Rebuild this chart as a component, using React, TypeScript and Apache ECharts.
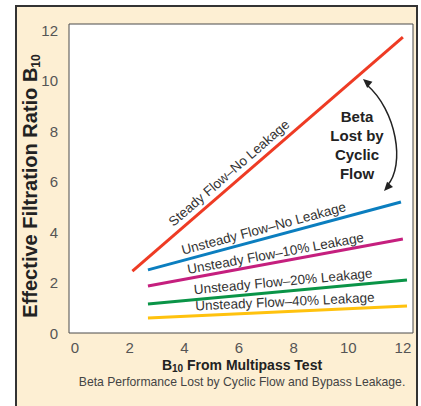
import React, { useEffect, useRef } from 'react';
import * as echarts from 'echarts';

// ---- data ----
const xTicks = [0, 2, 4, 6, 8, 10, 12];
const yTicks = [0, 2, 4, 6, 8, 10, 12];
const seriesNames = [
  'Steady Flow–No Leakage',
  'Unsteady Flow–No Leakage',
  'Unsteady Flow–10% Leakage',
  'Unsteady Flow–20% Leakage',
  'Unsteady Flow–40% Leakage',
];
const steadyNoLeak = [[2.1, 2.45], [12.0, 11.72]];
const unsteadyNoLeak = [[2.67, 2.5], [11.93, 5.19]];
const unsteady10 = [[2.67, 1.86], [12.0, 3.72]];
const unsteady20 = [[2.67, 1.15], [12.15, 2.1]];
const unsteady40 = [[2.67, 0.59], [12.15, 1.07]];
const seriesData = [steadyNoLeak, unsteadyNoLeak, unsteady10, unsteady20, unsteady40];

// ---- styling / layout ----
const colors = ['#EE3B24', '#0B7EBF', '#C51F7E', '#0A9447', '#FFC20E'];
const labelAtX = [5.9, 7.0, 7.4, 7.65, 7.7];
const labelOffsetPx = [11, 10, 9, 10, 10];
const FONT = '"Liberation Sans", Arial, Helvetica, sans-serif';

function arrowHead(tip: number[], dir: number[], len = 9, half = 4) {
  const L = Math.hypot(dir[0], dir[1]);
  const ux = dir[0] / L, uy = dir[1] / L;
  const bx = tip[0] - ux * len, by = tip[1] - uy * len;
  return [
    [tip[0], tip[1]],
    [bx - uy * half, by + ux * half],
    [bx + uy * half, by - ux * half],
  ];
}

export default function App() {
  const ref = useRef<HTMLDivElement>(null);
  useEffect(() => {
    if (!ref.current) return;
    const chart = echarts.init(ref.current, undefined, { renderer: 'svg' });
    const option: any = {
      animation: false,
      backgroundColor: '#ffffff',
      textStyle: { fontFamily: FONT },
      grid: {
        left: 69, top: 24, right: 8, bottom: 73,
        show: true, backgroundColor: '#ffffff', borderColor: '#4a4a4a', borderWidth: 1,
      },
      xAxis: {
        type: 'value', min: -0.22, max: 12.37,
        axisLine: { show: false }, axisTick: { show: false }, splitLine: { show: false },
        axisLabel: { customValues: xTicks, color: '#555', fontSize: 15, margin: 7, fontFamily: FONT },
      },
      yAxis: {
        type: 'value', min: 0, max: 12.24,
        axisLine: { show: false }, axisTick: { show: false }, splitLine: { show: false },
        axisLabel: { customValues: yTicks, color: '#555', fontSize: 15, margin: 11, fontFamily: FONT },
      },
      series: seriesData.map((d, i) => ({
        type: 'line', name: seriesNames[i], data: d, showSymbol: false, silent: true,
        lineStyle: { color: colors[i], width: 3 }, itemStyle: { color: colors[i] }, z: 3,
      })),
    };
    chart.setOption(option);

    const graphics: any[] = [];
    graphics.push({
      type: 'rect', z: -10, silent: true,
      shape: { x: 16, y: 6, width: 401, height: 420 },
      style: { fill: '#FDEFD3', stroke: '#333', lineWidth: 2 },
    });
    // line labels
    seriesData.forEach((d, i) => {
      const p0 = chart.convertToPixel({ gridIndex: 0 }, d[0]) as number[];
      const p1 = chart.convertToPixel({ gridIndex: 0 }, d[1]) as number[];
      const t = (labelAtX[i] - d[0][0]) / (d[1][0] - d[0][0]);
      const yv = d[0][1] + t * (d[1][1] - d[0][1]);
      const pc = chart.convertToPixel({ gridIndex: 0 }, [labelAtX[i], yv]) as number[];
      const dx = p1[0] - p0[0], dy = p1[1] - p0[1];
      const L = Math.hypot(dx, dy);
      const nx = dy / L, ny = -dx / L;
      graphics.push({
        type: 'text', z: 5, silent: true,
        x: pc[0] + nx * labelOffsetPx[i], y: pc[1] + ny * labelOffsetPx[i],
        rotation: Math.atan2(-dy, dx),
        style: {
          text: seriesNames[i], fill: '#333', fontSize: 13.5, fontFamily: FONT,
          align: 'center', verticalAlign: 'middle',
        },
      });
    });
    // annotation
    graphics.push({
      type: 'text', z: 5, silent: true, x: 357, y: 145,
      style: {
        text: 'Beta\nLost by\nCyclic\nFlow', fill: '#222', fontSize: 15, fontWeight: 'bold',
        fontFamily: FONT, lineHeight: 19, align: 'center', verticalAlign: 'middle',
      },
    });
    const s = [367, 85], c1 = [396, 110], c2 = [406, 165], e = [387, 186];
    graphics.push({
      type: 'bezierCurve', z: 5, silent: true,
      shape: { x1: s[0], y1: s[1], cpx1: c1[0], cpy1: c1[1], cpx2: c2[0], cpy2: c2[1], x2: e[0], y2: e[1] },
      style: { stroke: '#222', lineWidth: 1.5, fill: null },
    });
    graphics.push({
      type: 'polygon', z: 5, silent: true,
      shape: { points: arrowHead([363, 79], [s[0] - c1[0], s[1] - c1[1]]) },
      style: { fill: '#222' },
    });
    graphics.push({
      type: 'polygon', z: 5, silent: true,
      shape: { points: arrowHead([384, 191], [e[0] - c2[0], e[1] - c2[1]]) },
      style: { fill: '#222' },
    });
    // axis titles
    graphics.push({
      type: 'text', z: 5, silent: true, x: 30, y: 186, rotation: Math.PI / 2,
      style: {
        text: '{m|Effective Filtration Ratio B}{s|10}',
        align: 'center', verticalAlign: 'middle', fill: '#222', fontFamily: FONT,
        rich: {
          m: { fontSize: 20, fontWeight: 'bold', fill: '#222', lineHeight: 23, fontFamily: FONT },
          s: { fontSize: 12, fontWeight: 'bold', fill: '#222', lineHeight: 13, verticalAlign: 'bottom', fontFamily: FONT },
        },
      },
    });
    graphics.push({
      type: 'text', z: 5, silent: true, x: 242, y: 365,
      style: {
        text: '{m|B}{s|10}{m| From Multipass Test}',
        align: 'center', verticalAlign: 'middle', fill: '#222', fontFamily: FONT,
        rich: {
          m: { fontSize: 14, fontWeight: 'bold', fill: '#222', lineHeight: 17, fontFamily: FONT },
          s: { fontSize: 10, fontWeight: 'bold', fill: '#222', lineHeight: 10, verticalAlign: 'bottom', fontFamily: FONT },
        },
      },
    });
    graphics.push({
      type: 'text', z: 5, silent: true, x: 242, y: 382,
      style: {
        text: 'Beta Performance Lost by Cyclic Flow and Bypass Leakage.',
        align: 'center', verticalAlign: 'middle', fill: '#444', fontSize: 12.2, fontFamily: FONT,
      },
    });
    chart.setOption({ graphic: { elements: graphics } });
    return () => chart.dispose();
  }, []);
  return (
    <div
      ref={ref}
      style={{ position: 'absolute', left: 0, top: 0, width: 421, height: 406 }}
    />
  );
}
